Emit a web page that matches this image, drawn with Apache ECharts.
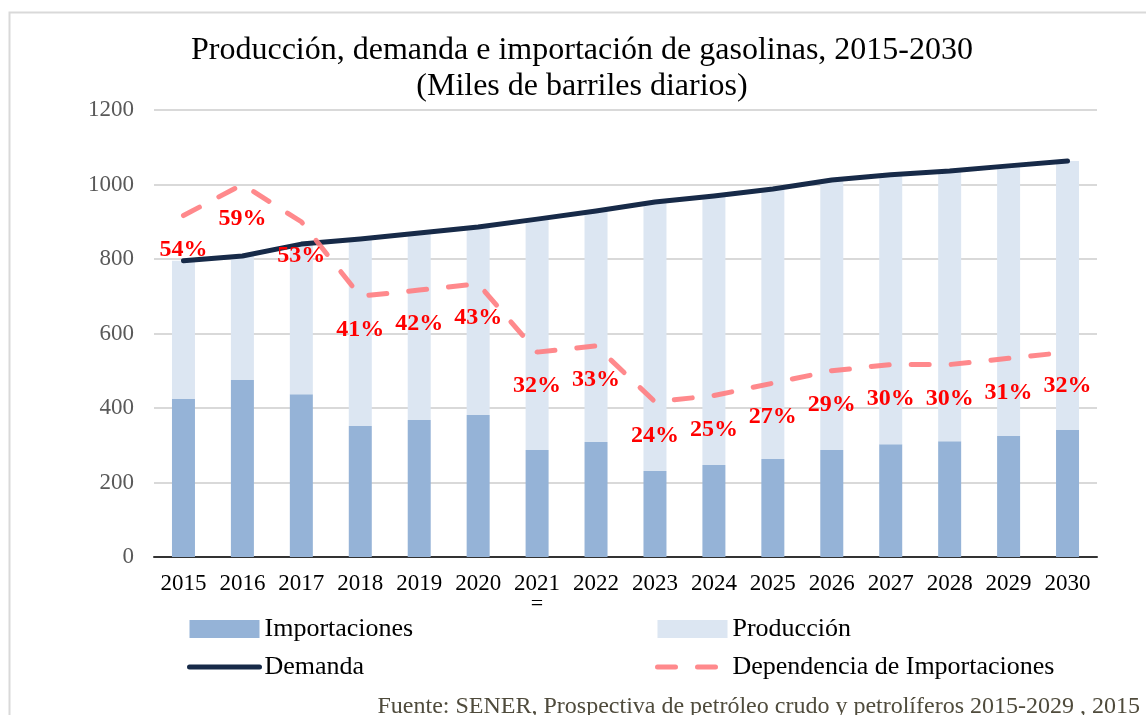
<!DOCTYPE html>
<html>
<head>
<meta charset="utf-8">
<script src="https://cdn.jsdelivr.net/npm/echarts@6/dist/echarts.min.js"></script>
<style>
  html, body { margin: 0; padding: 0; background: #fff; }
  #main { width: 1146px; height: 715px; }
</style>
</head>
<body>
<div id="main"></div>
<script>
const years = ['2015', '2016', '2017', '2018', '2019', '2020', '2021', '2022',
  '2023', '2024', '2025', '2026', '2027', '2028', '2029', '2030'];
const importaciones = [424, 475, 437, 352, 368, 381, 287, 309, 231, 247, 263, 287, 303, 311, 325, 341];
const produccion = [371, 333, 403, 502, 502, 505, 620, 620, 722, 722, 725, 725, 723, 725, 725, 722];
const demanda = [795, 808, 840, 854, 870, 886, 907, 929, 953, 969, 988, 1012, 1026, 1036, 1050, 1063];
const dependencia = [54, 59, 53, 41, 42, 43, 32, 33, 24, 25, 27, 29, 30, 30, 31, 32];
const yTicks = [0, 200, 400, 600, 800, 1000, 1200];

const FONT = 'Liberation Serif';
const chart = echarts.init(document.getElementById('main'));

const legendText = { fontFamily: FONT, fontSize: 26, color: '#000' };

const option = {
  backgroundColor: '#fff',
  animation: false,
  graphic: [
    {
      type: 'rect', left: 7, top: 10,
      shape: { width: 1160, height: 720 },
      style: { fill: 'none', stroke: '#D9D9D9', lineWidth: 2 },
      silent: true
    },
    {
      type: 'text', x: 582, y: 51,
      style: {
        text: 'Producción, demanda e importación de gasolinas, 2015-2030',
        font: '32px "' + FONT + '"', fill: '#000',
        align: 'center', verticalAlign: 'middle'
      }
    },
    {
      type: 'text', x: 582, y: 87,
      style: {
        text: '(Miles de barriles diarios)',
        font: '32px "' + FONT + '"', fill: '#000',
        align: 'center', verticalAlign: 'middle'
      }
    },
    {
      type: 'text', x: 537, y: 604,
      style: {
        text: '=', font: '22px "' + FONT + '"', fill: '#000',
        align: 'center', verticalAlign: 'middle'
      }
    },
    {
      type: 'text', x: 1140, y: 707,
      style: {
        text: 'Fuente: SENER, Prospectiva de petróleo crudo y petrolíferos 2015-2029 , 2015',
        font: '24px "' + FONT + '"', fill: '#4f4b3c',
        align: 'right', verticalAlign: 'middle'
      }
    }
  ],
  legend: [
    {
      orient: 'vertical', left: 187, top: 616, padding: 0,
      itemWidth: 70, itemHeight: 18, itemGap: 12,
      textStyle: legendText,
      data: [
        { name: 'Importaciones', icon: 'rect' },
        { name: 'Demanda', itemStyle: { opacity: 0 }, lineStyle: { width: 5, cap: 'round' } }
      ]
    },
    {
      orient: 'vertical', left: 655, top: 616, padding: 0,
      itemWidth: 70, itemHeight: 18, itemGap: 12,
      textStyle: legendText,
      data: [
        { name: 'Producción', icon: 'rect' },
        { name: 'Dependencia de Importaciones', itemStyle: { opacity: 0 },
          lineStyle: { width: 5, cap: 'round', type: [18, 22] } }
      ]
    }
  ],
  grid: { left: 154, right: 49, top: 110, bottom: 158 },
  xAxis: {
    type: 'category',
    data: years,
    axisTick: { show: false },
    axisLine: { lineStyle: { color: '#333', width: 2 } },
    axisLabel: { interval: 0, fontFamily: FONT, fontSize: 23, color: '#000', margin: 15 }
  },
  yAxis: [
    {
      type: 'value', min: 0, max: yTicks[yTicks.length - 1], interval: 200,
      axisLine: { show: false }, axisTick: { show: false },
      axisLabel: { fontFamily: FONT, fontSize: 23, color: '#595959', margin: 20, formatter: v => String(v) },
      splitLine: { lineStyle: { color: '#D9D9D9', width: 2 } }
    },
    {
      type: 'value', min: -1, max: 71, show: false,
      splitLine: { show: false }
    }
  ],
  series: [
    {
      name: 'Importaciones', type: 'bar', stack: 'total',
      barWidth: 23,
      itemStyle: { color: '#95B3D7' },
      data: importaciones
    },
    {
      name: 'Producción', type: 'bar', stack: 'total',
      barWidth: 23,
      itemStyle: { color: '#DCE6F2' },
      data: produccion
    },
    {
      name: 'Demanda', type: 'line',
      symbol: 'none', z: 3,
      lineStyle: { color: '#172A48', width: 5, cap: 'round', join: 'round' },
      itemStyle: { color: '#172A48' },
      data: demanda
    },
    {
      name: 'Dependencia de Importaciones', type: 'line', yAxisIndex: 1,
      symbol: 'circle', symbolSize: 2, showSymbol: true, z: 4,
      lineStyle: { color: '#FF7C80', width: 5, type: [18, 22], cap: 'round', opacity: 0.9 },
      itemStyle: { color: 'rgba(255,124,128,0)', borderWidth: 0 },
      label: {
        show: true, position: 'bottom', distance: 21,
        fontFamily: FONT, fontSize: 24, fontWeight: 'bold', color: '#FF0000',
        formatter: p => p.value + '%'
      },
      labelLayout: { hideOverlap: false },
      data: dependencia
    }
  ]
};

chart.setOption(option);
</script>
</body>
</html>
